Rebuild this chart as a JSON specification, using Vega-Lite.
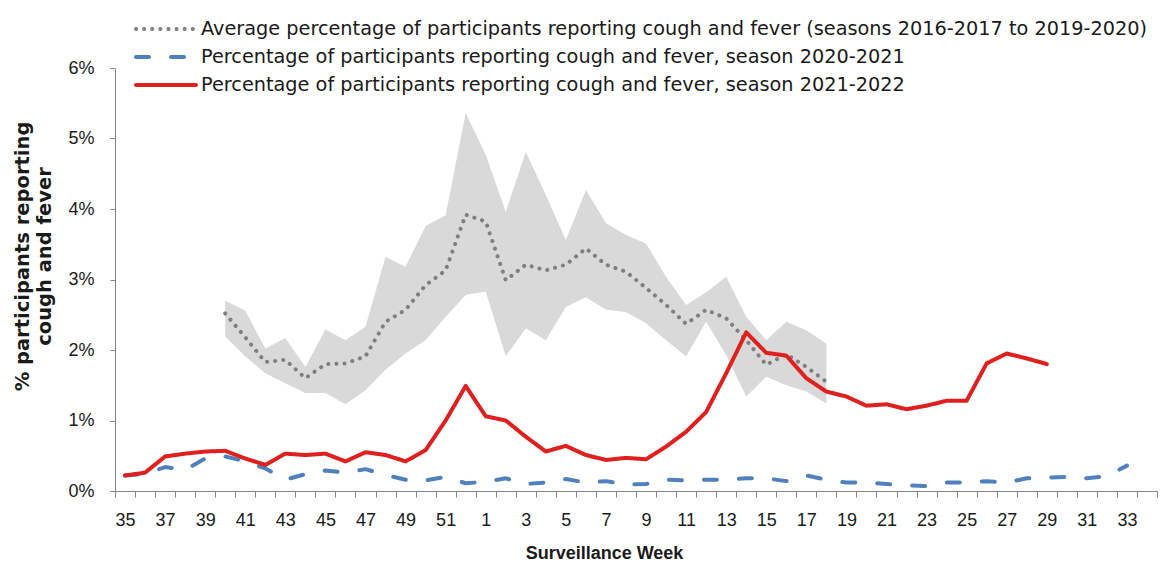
{
  "$schema": "https://vega.github.io/schema/vega-lite/v6.json",
  "width": 1042,
  "height": 423,
  "autosize": {"type": "none"},
  "padding": {"left": 115, "top": 68, "right": 6, "bottom": 74},
  "background": "white",
  "config": {"view": {"stroke": null}, "font": "Liberation Sans"},
  "data": {"values": [
    {"w":35,"b":0.22,"r":0.22},
    {"w":36,"b":0.24,"r":0.26},
    {"w":37,"b":0.34,"r":0.49},
    {"w":38,"b":0.30,"r":0.53},
    {"w":39,"b":0.46,"r":0.56},
    {"w":40,"a":2.52,"lo":2.19,"hi":2.70,"b":0.49,"r":0.57},
    {"w":41,"a":2.18,"lo":1.91,"hi":2.56,"b":0.42,"r":0.46},
    {"w":42,"a":1.83,"lo":1.67,"hi":2.02,"b":0.32,"r":0.37},
    {"w":43,"a":1.86,"lo":1.53,"hi":2.17,"b":0.16,"r":0.53},
    {"w":44,"a":1.60,"lo":1.39,"hi":1.76,"b":0.24,"r":0.51},
    {"w":45,"a":1.80,"lo":1.39,"hi":2.29,"b":0.29,"r":0.53},
    {"w":46,"a":1.81,"lo":1.23,"hi":2.14,"b":0.26,"r":0.42},
    {"w":47,"a":1.91,"lo":1.43,"hi":2.33,"b":0.31,"r":0.55},
    {"w":48,"a":2.40,"lo":1.72,"hi":3.32,"b":0.23,"r":0.51},
    {"w":49,"a":2.57,"lo":1.95,"hi":3.18,"b":0.16,"r":0.42},
    {"w":50,"a":2.92,"lo":2.14,"hi":3.76,"b":0.15,"r":0.58},
    {"w":51,"a":3.13,"lo":2.47,"hi":3.91,"b":0.20,"r":1.00},
    {"w":52,"a":3.92,"lo":2.78,"hi":5.36,"b":0.11,"r":1.49},
    {"w":1,"a":3.82,"lo":2.83,"hi":4.77,"b":0.13,"r":1.06},
    {"w":2,"a":2.99,"lo":1.91,"hi":3.96,"b":0.18,"r":1.00},
    {"w":3,"a":3.21,"lo":2.31,"hi":4.81,"b":0.10,"r":0.77},
    {"w":4,"a":3.13,"lo":2.14,"hi":4.20,"b":0.12,"r":0.56},
    {"w":5,"a":3.21,"lo":2.61,"hi":3.56,"b":0.17,"r":0.64},
    {"w":6,"a":3.44,"lo":2.75,"hi":4.27,"b":0.12,"r":0.51},
    {"w":7,"a":3.21,"lo":2.57,"hi":3.80,"b":0.14,"r":0.44},
    {"w":8,"a":3.11,"lo":2.54,"hi":3.63,"b":0.09,"r":0.47},
    {"w":9,"a":2.88,"lo":2.38,"hi":3.51,"b":0.10,"r":0.45},
    {"w":10,"a":2.64,"lo":2.14,"hi":3.04,"b":0.16,"r":0.63},
    {"w":11,"a":2.37,"lo":1.91,"hi":2.64,"b":0.15,"r":0.84},
    {"w":12,"a":2.57,"lo":2.40,"hi":2.82,"b":0.16,"r":1.12},
    {"w":13,"a":2.45,"lo":1.93,"hi":3.04,"b":0.16,"r":1.67},
    {"w":14,"a":2.14,"lo":1.34,"hi":2.47,"b":0.18,"r":2.25},
    {"w":15,"a":1.79,"lo":1.62,"hi":2.14,"b":0.18,"r":1.96},
    {"w":16,"a":1.94,"lo":1.50,"hi":2.40,"b":0.14,"r":1.92},
    {"w":17,"a":1.76,"lo":1.41,"hi":2.28,"b":0.22,"r":1.60},
    {"w":18,"a":1.55,"lo":1.24,"hi":2.09,"b":0.16,"r":1.41},
    {"w":19,"b":0.12,"r":1.34},
    {"w":20,"b":0.12,"r":1.21},
    {"w":21,"b":0.10,"r":1.23},
    {"w":22,"b":0.08,"r":1.16},
    {"w":23,"b":0.07,"r":1.21},
    {"w":24,"b":0.12,"r":1.28},
    {"w":25,"b":0.12,"r":1.28},
    {"w":26,"b":0.14,"r":1.81},
    {"w":27,"b":0.12,"r":1.95},
    {"w":28,"b":0.18,"r":1.88},
    {"w":29,"b":0.19,"r":1.80},
    {"w":30,"b":0.20},
    {"w":31,"b":0.18},
    {"w":32,"b":0.21},
    {"w":33,"b":0.36},
    {"w":34}
  ]},
  "encoding": {
    "x": {
      "field": "w",
      "type": "ordinal",
      "bandPosition": 0.5,
      "scale": {
        "type": "band",
        "domain": [35,36,37,38,39,40,41,42,43,44,45,46,47,48,49,50,51,52,1,2,3,4,5,6,7,8,9,10,11,12,13,14,15,16,17,18,19,20,21,22,23,24,25,26,27,28,29,30,31,32,33,34],
        "paddingInner": 0,
        "paddingOuter": 0
      },
      "axis": {
        "title": "Surveillance Week",
        "tickBand": "extent",
        "labelExpr": "datum.value % 2 == 1 ? datum.label : ''",
        "labelAngle": 0,
        "labelOverlap": false,
        "tickSize": 6,
        "tickColor": "#868686",
        "domainColor": "#868686",
        "labelFontSize": 18,
        "labelColor": "#1a1a1a",
        "labelPadding": 14,
        "titleFontSize": 18,
        "titleFontWeight": "bold",
        "titleColor": "#1a1a1a",
        "titleX": 489,
        "titleY": 62,
        "titleBaseline": "middle",
        "grid": false
      }
    }
  },
  "layer": [
    {
      "mark": {"type": "area", "color": "#d9d9d9"},
      "encoding": {
        "y": {
          "field": "lo",
          "type": "quantitative",
          "scale": {"domain": [0, 6], "nice": false, "zero": true},
          "axis": {
            "title": ["% participants reporting", "cough and fever"],
            "values": [0, 1, 2, 3, 4, 5, 6],
            "labelExpr": "datum.value + '%'",
            "tickSize": 5,
            "tickColor": "#868686",
            "domainColor": "#868686",
            "labelFontSize": 18,
            "labelColor": "#1a1a1a",
            "labelPadding": 16,
            "grid": false,
            "titleFont": "DejaVu Sans",
            "titleFontSize": 19.5,
            "titleFontWeight": "bold",
            "titleColor": "#1a1a1a",
            "titleLineHeight": 22,
            "titleX": -83,
            "titleY": 188
          }
        },
        "y2": {"field": "hi"}
      }
    },
    {
      "transform": [{"fold": ["a", "b", "r"], "as": ["series", "pct"]}],
      "mark": {"type": "line", "strokeWidth": 4, "strokeCap": "round", "strokeJoin": "round"},
      "encoding": {
        "y": {"field": "pct", "type": "quantitative"},
        "color": {
          "field": "series",
          "type": "nominal",
          "scale": {"domain": ["a", "b", "r"], "range": ["#7f7f7f", "#4f81bd", "#e0201e"]},
          "legend": {
            "orient": "none",
            "legendX": 21,
            "legendY": -50,
            "title": null,
            "symbolType": "stroke",
            "symbolSize": 100,
            "symbolStrokeWidth": 4,
            "labelFont": "DejaVu Sans",
            "labelFontSize": 19.3,
            "labelColor": "#1a1a1a",
            "labelOffset": 1,
            "labelLimit": 1100,
            "rowPadding": 6,
            "padding": 0,
            "labelExpr": "datum.value == 'a' ? 'Average percentage of participants reporting cough and fever (seasons 2016-2017 to 2019-2020)' : datum.value == 'b' ? 'Percentage of participants reporting cough and fever, season 2020-2021' : 'Percentage of participants reporting cough and fever, season 2021-2022'",
            "encode": {
              "symbols": {"update": {"strokeCap": {"value": "round"}, "size": {"value": 3600}, "x": {"value": 30}, "y": {"value": 11}}},
              "labels": {"update": {"x": {"value": 65}, "y": {"value": 11}}}
            }
          }
        },
        "strokeDash": {
          "field": "series",
          "type": "nominal",
          "scale": {"domain": ["a", "b", "r"], "range": [[0.1, 8], [13, 22], [1, 0]]},
          "legend": {
            "orient": "none",
            "legendX": 21,
            "legendY": -50,
            "title": null,
            "symbolType": "stroke",
            "symbolSize": 100,
            "symbolStrokeWidth": 4,
            "labelFont": "DejaVu Sans",
            "labelFontSize": 19.3,
            "labelColor": "#1a1a1a",
            "labelOffset": 1,
            "labelLimit": 1100,
            "rowPadding": 6,
            "padding": 0,
            "labelExpr": "datum.value == 'a' ? 'Average percentage of participants reporting cough and fever (seasons 2016-2017 to 2019-2020)' : datum.value == 'b' ? 'Percentage of participants reporting cough and fever, season 2020-2021' : 'Percentage of participants reporting cough and fever, season 2021-2022'",
            "encode": {
              "symbols": {"update": {"strokeCap": {"value": "round"}, "size": {"value": 3600}, "x": {"value": 30}, "y": {"value": 11}}},
              "labels": {"update": {"x": {"value": 65}, "y": {"value": 11}}}
            }
          }
        }
      }
    }
  ]
}
